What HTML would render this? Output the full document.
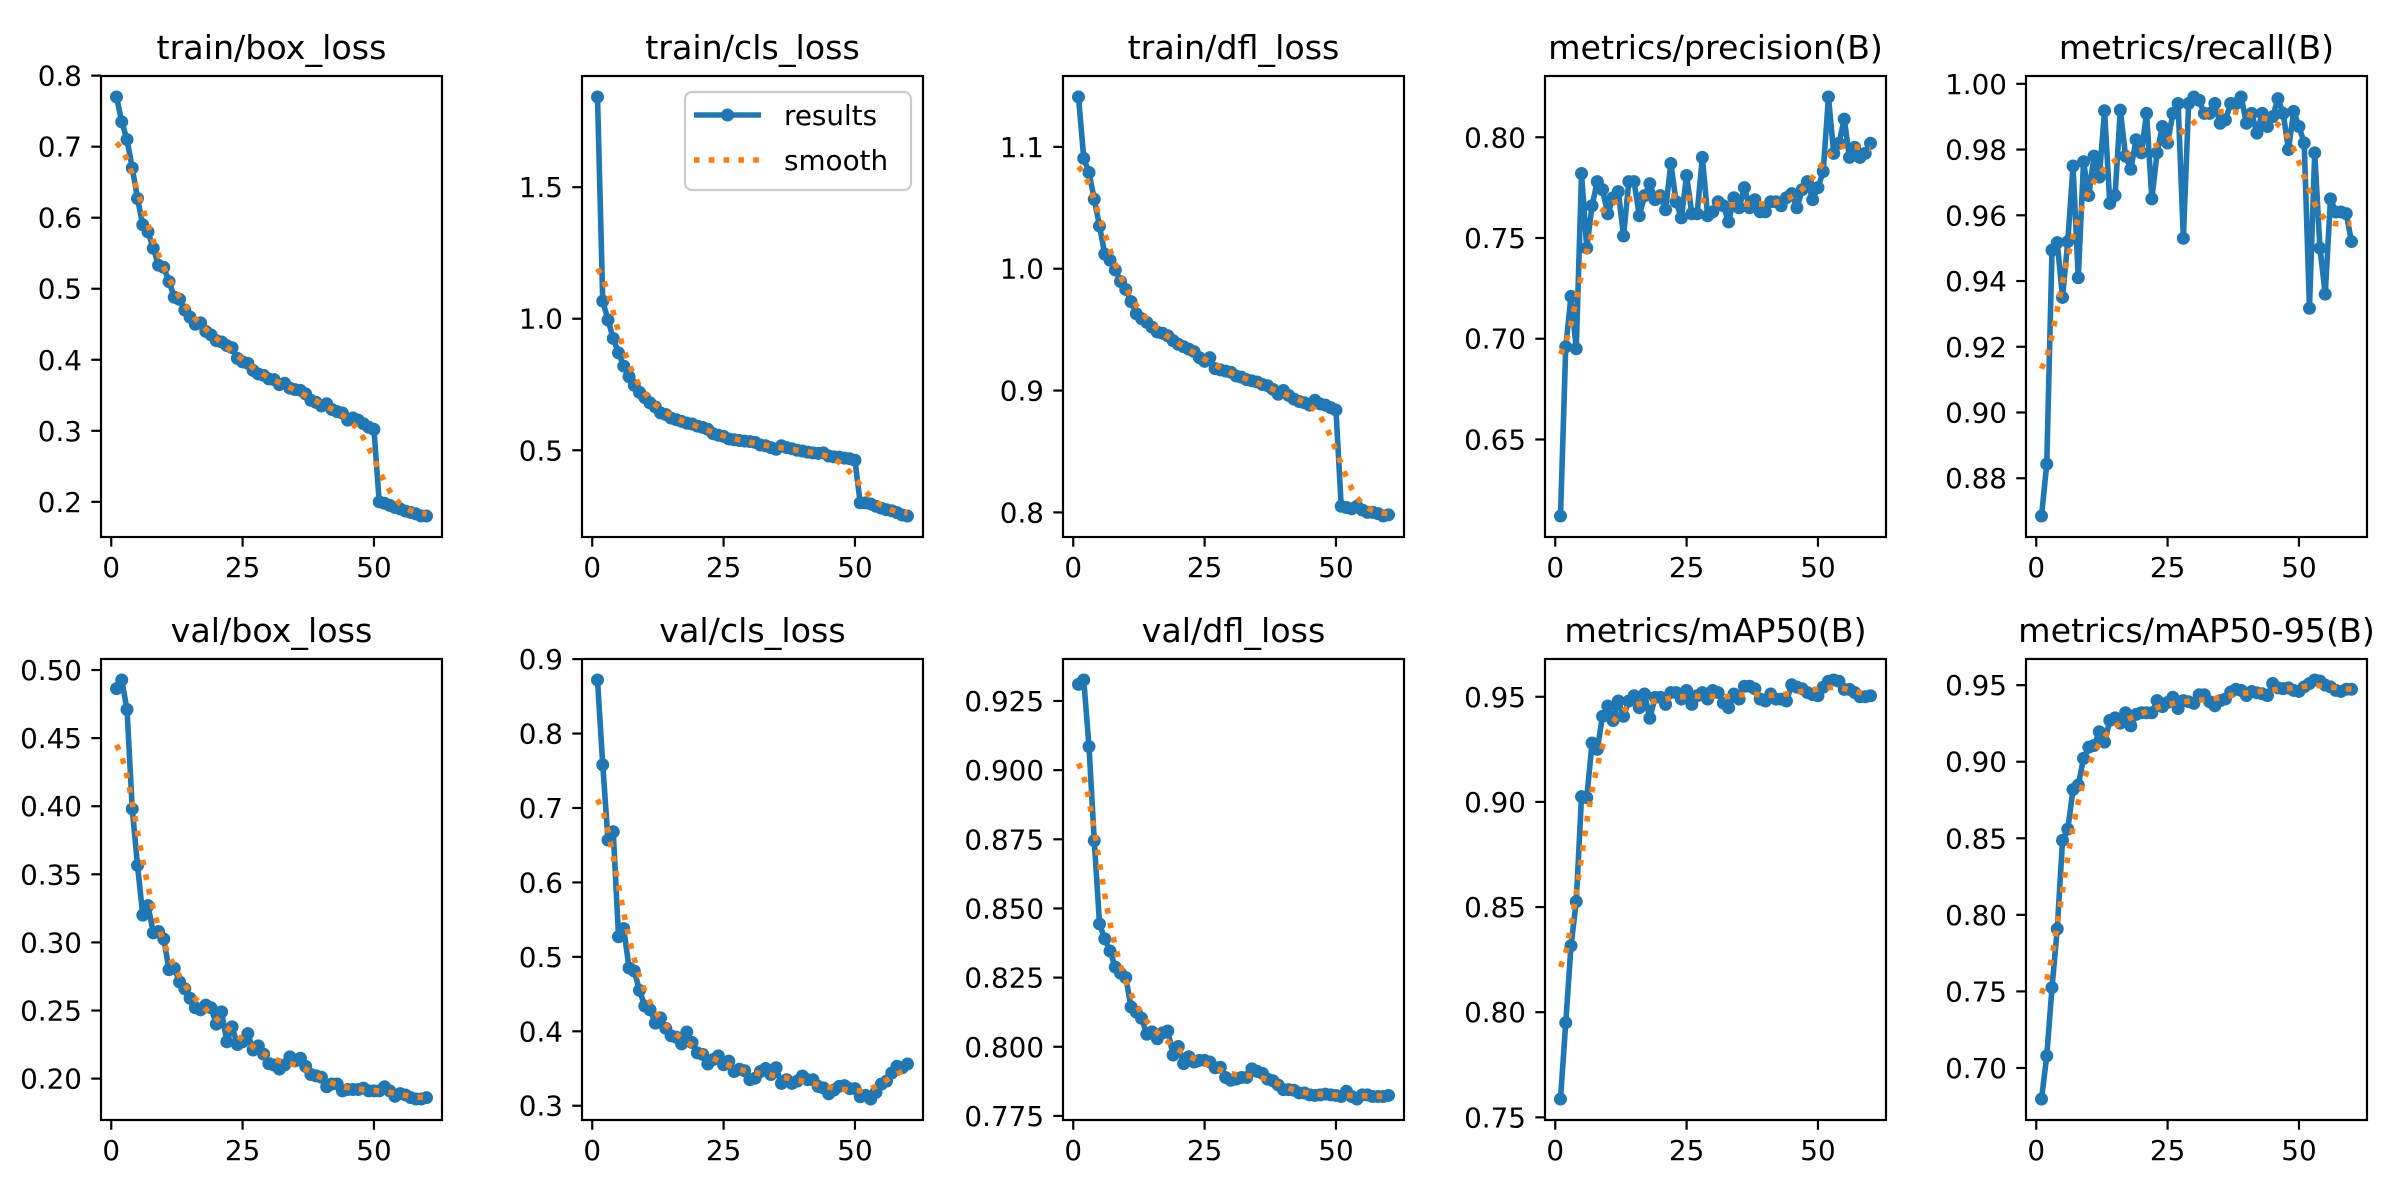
<!DOCTYPE html>
<html><head><meta charset="utf-8"><style>
html,body{margin:0;padding:0;background:#fff;}
svg{display:block;font-family:"DejaVu Sans","Liberation Sans",sans-serif;}
</style></head><body>
<svg id="fig" width="2400" height="1200" viewBox="0 0 2400 1200" xmlns="http://www.w3.org/2000/svg">
<rect width="2400" height="1200" fill="#fff"/>
</svg>
<script>
const epochs = Array.from({length:60},(_,i)=>i+1);
const titles = ["train/box_loss","train/cls_loss","train/dfl_loss","metrics/precision(B)","metrics/recall(B)","val/box_loss","val/cls_loss","val/dfl_loss","metrics/mAP50(B)","metrics/mAP50-95(B)"];
const trainBox = [0.77,0.735,0.71,0.67,0.627,0.59,0.58,0.557,0.533,0.53,0.51,0.488,0.485,0.47,0.46,0.45,0.452,0.44,0.435,0.427,0.425,0.42,0.417,0.402,0.397,0.395,0.385,0.38,0.378,0.373,0.372,0.365,0.367,0.36,0.358,0.357,0.352,0.343,0.34,0.335,0.338,0.33,0.327,0.325,0.315,0.318,0.315,0.31,0.305,0.302,0.2,0.198,0.195,0.192,0.19,0.187,0.185,0.183,0.18,0.18];
const trainCls = [1.843,1.067,0.995,0.925,0.87,0.82,0.78,0.747,0.72,0.70,0.68,0.665,0.642,0.636,0.622,0.616,0.61,0.603,0.60,0.592,0.587,0.58,0.563,0.557,0.553,0.543,0.54,0.537,0.535,0.533,0.53,0.52,0.517,0.51,0.504,0.517,0.51,0.506,0.5,0.497,0.493,0.49,0.488,0.49,0.478,0.475,0.474,0.47,0.468,0.462,0.30,0.30,0.296,0.287,0.28,0.274,0.27,0.263,0.254,0.25];
const trainDfl = [1.141,1.0906,1.079,1.057,1.035,1.012,1.007,0.999,0.9895,0.983,0.973,0.963,0.959,0.956,0.952,0.948,0.947,0.945,0.941,0.938,0.936,0.934,0.932,0.927,0.924,0.927,0.918,0.917,0.916,0.915,0.912,0.911,0.909,0.908,0.907,0.905,0.904,0.901,0.897,0.900,0.896,0.893,0.891,0.890,0.888,0.892,0.889,0.888,0.886,0.884,0.805,0.804,0.803,0.805,0.802,0.800,0.800,0.799,0.797,0.798];
const precision = [0.612,0.696,0.721,0.695,0.782,0.745,0.766,0.778,0.774,0.762,0.770,0.773,0.751,0.778,0.778,0.761,0.771,0.777,0.769,0.771,0.764,0.787,0.768,0.760,0.781,0.762,0.762,0.790,0.761,0.763,0.768,0.766,0.758,0.770,0.765,0.775,0.765,0.769,0.763,0.763,0.768,0.768,0.766,0.770,0.772,0.765,0.774,0.778,0.769,0.775,0.783,0.820,0.792,0.797,0.809,0.790,0.795,0.790,0.792,0.797];
const recall = [0.8685,0.8843,0.9494,0.9517,0.935,0.952,0.975,0.941,0.9763,0.966,0.978,0.9716,0.9918,0.9636,0.966,0.992,0.978,0.974,0.983,0.979,0.991,0.965,0.979,0.987,0.982,0.991,0.994,0.953,0.994,0.996,0.995,0.991,0.991,0.994,0.988,0.989,0.994,0.994,0.996,0.988,0.991,0.985,0.991,0.987,0.990,0.9955,0.991,0.980,0.9916,0.987,0.982,0.9317,0.979,0.950,0.936,0.965,0.961,0.961,0.9605,0.952];
const valBox = [0.4863,0.4927,0.471,0.398,0.3565,0.320,0.327,0.307,0.308,0.3025,0.280,0.281,0.271,0.266,0.259,0.252,0.2505,0.254,0.252,0.240,0.249,0.227,0.238,0.225,0.227,0.233,0.221,0.224,0.218,0.211,0.210,0.207,0.210,0.216,0.213,0.215,0.209,0.203,0.202,0.201,0.194,0.196,0.196,0.191,0.192,0.192,0.192,0.193,0.191,0.191,0.191,0.194,0.191,0.187,0.189,0.188,0.186,0.185,0.185,0.186];
const valCls = [0.872,0.758,0.657,0.668,0.527,0.538,0.485,0.481,0.455,0.434,0.429,0.411,0.418,0.404,0.394,0.392,0.383,0.399,0.385,0.371,0.369,0.356,0.362,0.367,0.355,0.360,0.346,0.349,0.347,0.335,0.337,0.346,0.350,0.342,0.351,0.330,0.335,0.330,0.333,0.340,0.335,0.335,0.326,0.324,0.316,0.321,0.326,0.327,0.323,0.323,0.312,0.314,0.309,0.318,0.329,0.333,0.344,0.353,0.351,0.356];
const valDfl = [0.931,0.9326,0.9085,0.8745,0.8444,0.839,0.8346,0.8288,0.8266,0.825,0.8144,0.8125,0.8103,0.8045,0.8054,0.8029,0.805,0.8057,0.797,0.8001,0.7939,0.7964,0.7945,0.7951,0.7951,0.7945,0.7924,0.7926,0.7889,0.7879,0.7883,0.7889,0.7889,0.792,0.7911,0.7904,0.7883,0.7877,0.7862,0.7845,0.7845,0.7843,0.7833,0.7833,0.7826,0.7824,0.7826,0.7829,0.7826,0.7824,0.782,0.7839,0.782,0.7811,0.7826,0.7826,0.782,0.782,0.782,0.7824];
const map50 = [0.7587,0.795,0.8316,0.8526,0.9025,0.902,0.928,0.925,0.9407,0.9456,0.9387,0.948,0.9407,0.948,0.9505,0.9448,0.9513,0.9398,0.9497,0.9497,0.9464,0.952,0.952,0.9489,0.953,0.9464,0.9505,0.952,0.9489,0.953,0.952,0.947,0.9448,0.9513,0.9489,0.955,0.955,0.9538,0.9489,0.948,0.9513,0.9489,0.9489,0.948,0.9557,0.9546,0.9538,0.952,0.951,0.9505,0.9546,0.9574,0.958,0.9574,0.9535,0.9535,0.952,0.950,0.950,0.9505];
const map5095 = [0.6797,0.7079,0.7525,0.7908,0.8486,0.856,0.8818,0.8847,0.9022,0.9095,0.9106,0.9196,0.9128,0.927,0.9286,0.9252,0.932,0.9234,0.9309,0.932,0.932,0.932,0.9399,0.936,0.9387,0.9421,0.9347,0.9399,0.9392,0.9381,0.9437,0.9437,0.9392,0.9365,0.9399,0.941,0.9455,0.9473,0.9466,0.9432,0.9459,0.945,0.9444,0.9432,0.9511,0.9482,0.9477,0.9482,0.9466,0.9459,0.9489,0.9511,0.9534,0.9527,0.95,0.9489,0.9466,0.9459,0.9473,0.9473];
const xTickLabels = ["0","25","50"];
const yTicks0 = ["0.2","0.3","0.4","0.5","0.6","0.7","0.8"];
const yTicks1 = ["0.5","1.0","1.5"];
const yTicks2 = ["0.8","0.9","1.0","1.1"];
const yTicks3 = ["0.65","0.70","0.75","0.80"];
const yTicks4 = ["0.88","0.90","0.92","0.94","0.96","0.98","1.00"];
const yTicks5 = ["0.20","0.25","0.30","0.35","0.40","0.45","0.50"];
const yTicks6 = ["0.3","0.4","0.5","0.6","0.7","0.8","0.9"];
const yTicks7 = ["0.775","0.800","0.825","0.850","0.875","0.900","0.925"];
const yTicks8 = ["0.75","0.80","0.85","0.90","0.95"];
const yTicks9 = ["0.70","0.75","0.80","0.85","0.90","0.95"];

const seriesList = [trainBox,trainCls,trainDfl,precision,recall,valBox,valCls,valDfl,map50,map5095];
const tickList = [yTicks0,yTicks1,yTicks2,yTicks3,yTicks4,yTicks5,yTicks6,yTicks7,yTicks8,yTicks9];
const slugs = ["train-box-loss","train-cls-loss","train-dfl-loss","precision","recall","val-box-loss","val-cls-loss","val-dfl-loss","map50","map50-95"];

const NS = "http://www.w3.org/2000/svg";
const svg = document.getElementById('fig');
function mk(tag, attrs, parent){ const e=document.createElementNS(NS,tag); for(const k in attrs) e.setAttribute(k,attrs[k]); (parent||svg).appendChild(e); return e; }

function gaussSmooth(y, sigma){
  const r = Math.round(4*sigma), n=y.length, w=[]; let s=0;
  for(let k=-r;k<=r;k++){ const v=Math.exp(-k*k/(2*sigma*sigma)); w.push(v); s+=v; }
  return y.map((_,i)=>{ let acc=0; for(let k=-r;k<=r;k++){ let j=i+k; while(j<0||j>=n){ if(j<0) j=-j-1; if(j>=n) j=2*n-j-1; } acc+=w[k+r]/s*y[j]; } return acc; });
}

const lefts=[101,582,1063,1545,2026], tops=[76,659], W=341, H=461;
const BLUE="#1f77b4", ORANGE="#ff7f0e";

seriesList.forEach((ys, p)=>{
  const L=lefts[p%5], T=tops[Math.floor(p/5)];
  const g = mk('g',{});
  
  
  const sm = gaussSmooth(ys,3);
  const all = ys.concat(sm);
  const mn=Math.min(...all), mx=Math.max(...all), pad=(mx-mn)*0.05;
  const y0=mn-pad, y1=mx+pad;
  const xmn=epochs[0], xmx=epochs[epochs.length-1], xp=(xmx-xmn)*0.05;
  const X = v => L + (v-(xmn-xp))/((xmx+xp)-(xmn-xp))*W;
  const Y = v => T + H - (v-y0)/(y1-y0)*H;
  const clipId='clip'+p;
  const cp = mk('clipPath',{id:clipId},g); mk('rect',{x:L,y:T,width:W,height:H},cp);
  // results line
  const pts = ys.map((v,i)=>X(epochs[i]).toFixed(2)+','+Y(v).toFixed(2)).join(' ');
  const line = mk('polyline',{points:pts,fill:'none',stroke:BLUE,'stroke-width':5.6,'stroke-linejoin':'round','clip-path':'url(#'+clipId+')'},g);
  
  
  ys.forEach((v,i)=>{
    const c = mk('circle',{cx:X(epochs[i]).toFixed(2),cy:Y(v).toFixed(2),r:6.5,fill:BLUE},g);
    
    
  });
  const spts = sm.map((v,i)=>X(epochs[i]).toFixed(2)+','+Y(v).toFixed(2)).join(' ');
  const sl = mk('polyline',{points:spts,fill:'none',stroke:ORANGE,'stroke-width':5.6,'stroke-dasharray':'5.6 9.2','clip-path':'url(#'+clipId+')'},g);
  
  
  // frame
  const fr = mk('rect',{x:L,y:T,width:W,height:H,fill:'none',stroke:'#000','stroke-width':2.2},g);
  
  
  // x ticks
  xTickLabels.forEach(t=>{
    const xv=X(parseFloat(t));
    mk('line',{x1:xv,y1:T+H,x2:xv,y2:T+H+9.7,stroke:'#000','stroke-width':2.2},g);
    const tx = mk('text',{x:xv,y:T+H+40,'text-anchor':'middle','font-size':27.8,fill:'#000'},g);
    tx.textContent=t;
    
    
  });
  tickList[p].forEach(t=>{
    const yv=Y(parseFloat(t));
    mk('line',{x1:L-9.7,y1:yv,x2:L,y2:yv,stroke:'#000','stroke-width':2.2},g);
    const ty = mk('text',{x:L-19,y:yv+10,'text-anchor':'end','font-size':27.8,fill:'#000'},g);
    ty.textContent=t;
    
    
  });
  const ti = mk('text',{x:L+W/2,y:T-17,'text-anchor':'middle','font-size':33.3,fill:'#000'},g);
  ti.textContent=titles[p];
  
  
});

// legend on second panel
const lg = mk('g',{});


mk('rect',{x:685,y:92,width:226,height:98,rx:7,fill:'#fff','fill-opacity':0.8,stroke:'#cccccc','stroke-width':2.2},lg);
mk('line',{x1:694,y1:115,x2:761,y2:115,stroke:BLUE,'stroke-width':5.6},lg);
mk('circle',{cx:727.5,cy:115,r:6.5,fill:BLUE},lg);
const lt1 = mk('text',{x:784,y:125,'font-size':27.8,fill:'#000'},lg); lt1.textContent='results';


mk('line',{x1:694,y1:160,x2:761,y2:160,stroke:ORANGE,'stroke-width':5.6,'stroke-dasharray':'5.6 9.2'},lg);
const lt2 = mk('text',{x:784,y:170,'font-size':27.8,fill:'#000'},lg); lt2.textContent='smooth';


</script>
</body></html>
